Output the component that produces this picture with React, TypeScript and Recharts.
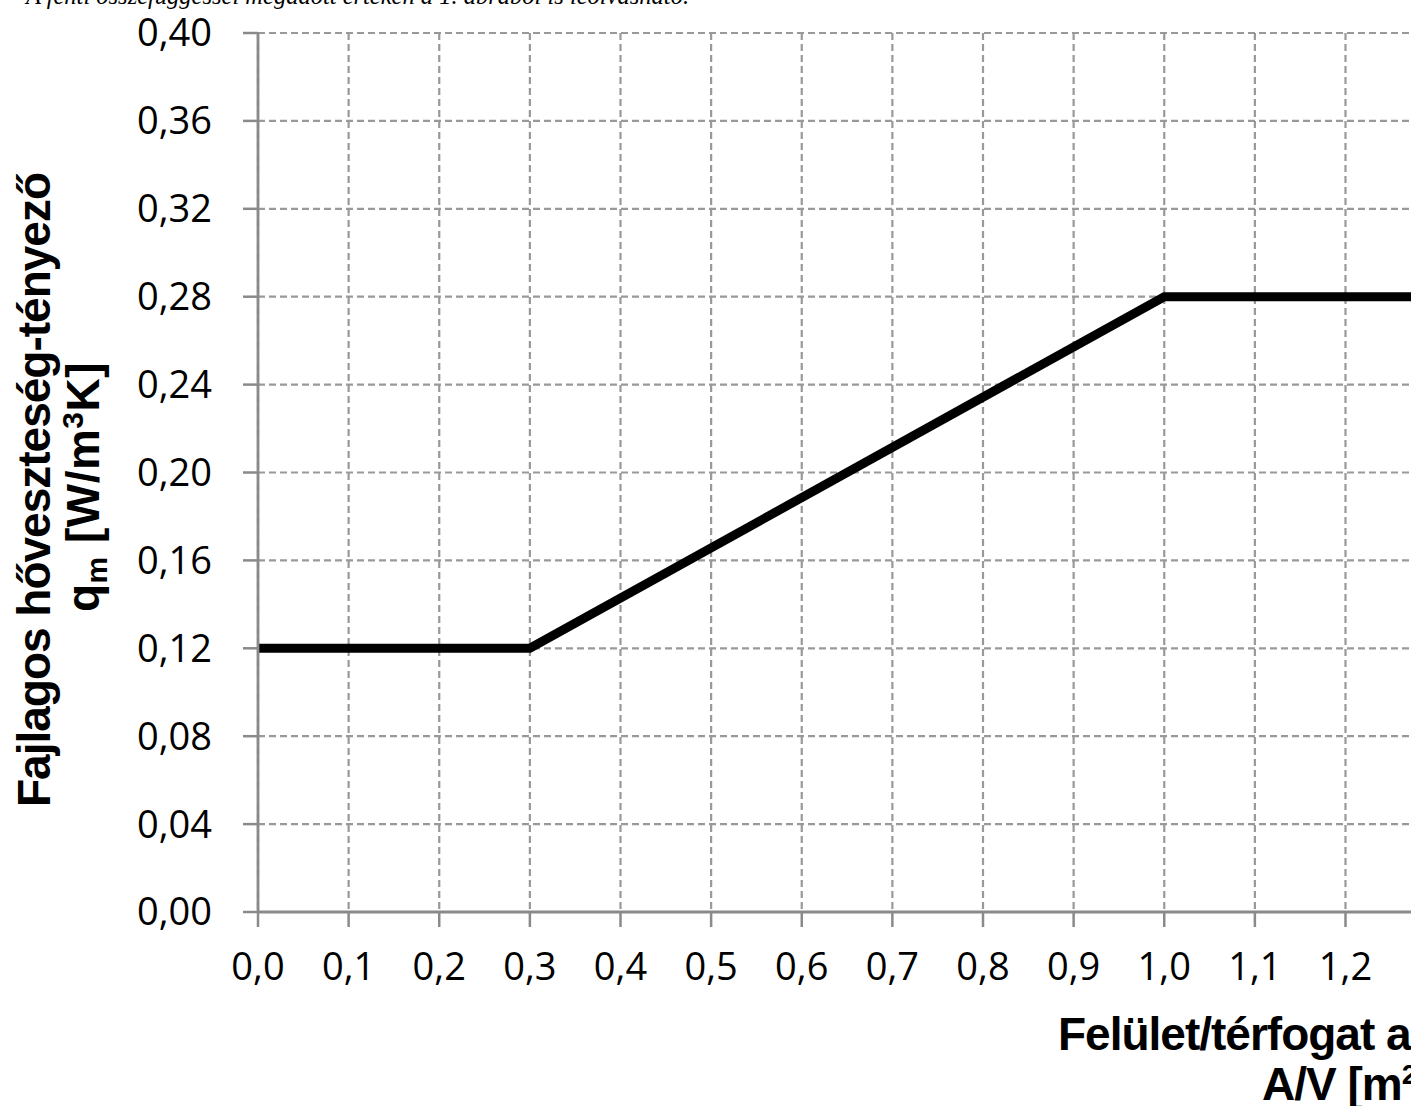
import { LineChart, Line, XAxis, YAxis, CartesianGrid } from "recharts";

// A/V ratio vs. specific heat-loss factor (piecewise requirement curve)
const avRatio = [0, 0.3, 1.0, 1.6];
const qmValues = [0.12, 0.12, 0.28, 0.28];

const xTicks = [0, 0.1, 0.2, 0.3, 0.4, 0.5, 0.6, 0.7, 0.8, 0.9, 1.0, 1.1, 1.2, 1.3, 1.4, 1.5, 1.6];
const yTicks = [0, 0.04, 0.08, 0.12, 0.16, 0.2, 0.24, 0.28, 0.32, 0.36, 0.4];

const data = avRatio.map((av, i) => ({ av, qm: qmValues[i] }));

const AXIS_GRAY = "#8a8a8a";
const GRID_GRAY = "#999999";
const TICK_FONT = { fontFamily: "'Open Sans', sans-serif", fontSize: 38, fill: "#000" };
const TITLE_FONT = "'Liberation Sans', Arial, sans-serif";

const YTitle = () => (
  <g fontFamily={TITLE_FONT} fontWeight="bold" fontSize={46} fill="#000">
    <text transform="translate(50,490) rotate(-90)" textAnchor="middle" letterSpacing={-1}>
      Fajlagos hőveszteség-tényező
    </text>
    <text transform="translate(99,487) rotate(-90)" textAnchor="middle" letterSpacing={0.5}>
      q
      <tspan fontSize={30} dy={8}>m</tspan>
      <tspan dy={-8}> [W/m</tspan>
      <tspan fontSize={30} dy={-16}>3</tspan>
      <tspan dy={16}>K]</tspan>
    </text>
  </g>
);

const XTitle = () => (
  <g fontFamily={TITLE_FONT} fontWeight="bold" fontSize={46} fill="#000" letterSpacing={-1}>
    <text x={1058} y={1050}>Felület/térfogat arány</text>
    <text x={1262} y={1100}>
      A/V [m<tspan fontSize={28} dy={-16}>2</tspan>
      <tspan dy={16}>/m</tspan>
      <tspan fontSize={28} dy={-16}>3</tspan>
      <tspan dy={16}>]</tspan>
    </text>
  </g>
);

export default function App() {
  return (
    <div
      style={{
        position: "absolute",
        left: 0,
        top: 0,
        width: 1411,
        height: 1106,
        overflow: "hidden",
        background: "#fff",
      }}
    >
      <div
        style={{
          position: "absolute",
          left: 26,
          top: -16,
          fontFamily: "'Liberation Serif', 'Times New Roman', serif",
          fontStyle: "italic",
          fontSize: 24.5,
          lineHeight: "24px",
          whiteSpace: "nowrap",
          zIndex: 2,
        }}
      >
        A fenti összefüggéssel megadott értéken a 1. ábrából is leolvasható.
      </div>
      <LineChart
        width={1718}
        height={1106}
        data={data}
        margin={{ top: 33, right: 10, left: 0, bottom: 0 }}
      >
        <CartesianGrid stroke={GRID_GRAY} strokeWidth={2.2} strokeDasharray="7 4" />
        <XAxis
          dataKey="av"
          type="number"
          domain={[0, 1.6]}
          ticks={xTicks}
          interval={0}
          height={194}
          tickFormatter={(v: number) => v.toFixed(1).replace(".", ",")}
          tick={TICK_FONT}
          tickSize={15}
          tickMargin={26}
          axisLine={{ stroke: AXIS_GRAY, strokeWidth: 2.8 }}
          tickLine={{ stroke: AXIS_GRAY, strokeWidth: 2.5 }}
          label={{ content: () => <XTitle /> }}
        />
        <YAxis
          type="number"
          domain={[0, 0.4]}
          ticks={yTicks}
          interval={0}
          width={258}
          tickFormatter={(v: number) => v.toFixed(2).replace(".", ",")}
          tick={TICK_FONT}
          tickSize={15}
          tickMargin={31}
          axisLine={{ stroke: AXIS_GRAY, strokeWidth: 2.8 }}
          tickLine={{ stroke: AXIS_GRAY, strokeWidth: 2.5 }}
          label={{ content: () => <YTitle /> }}
        />
        <Line
          type="linear"
          dataKey="qm"
          stroke="#000"
          strokeWidth={9}
          dot={false}
          activeDot={false}
          isAnimationActive={false}
        />
      </LineChart>
    </div>
  );
}
